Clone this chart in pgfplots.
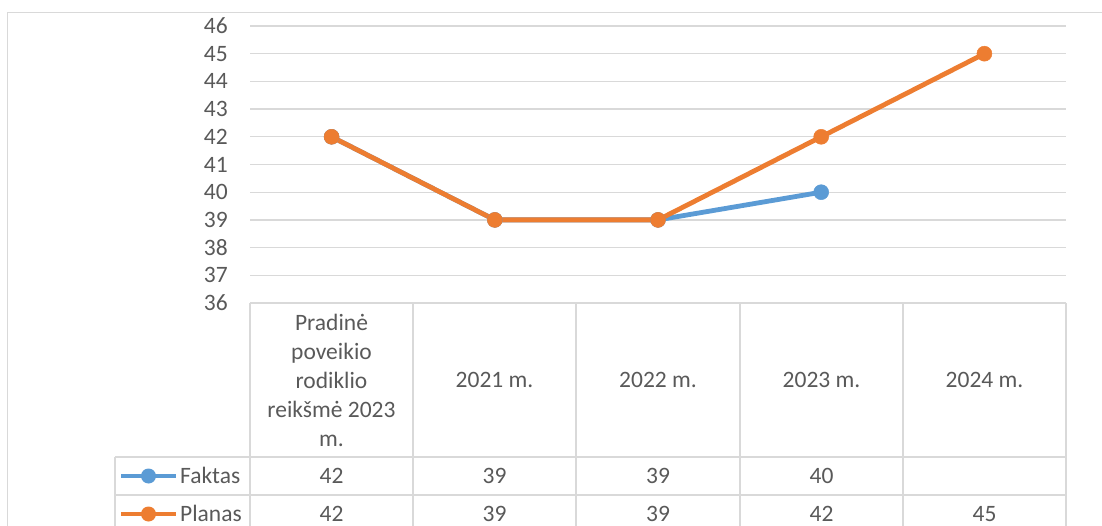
\documentclass[border=0pt]{standalone}
\usepackage{fontspec}
\setmainfont{Carlito}
\usepackage{pgfplots}
\pgfplotsset{compat=1.18}
\definecolor{gridc}{HTML}{D9D9D9}
\definecolor{txt}{HTML}{595959}
\definecolor{fakt}{HTML}{5B9BD5}
\definecolor{plan}{HTML}{ED7D31}
\begin{document}
\begin{tikzpicture}
\path[use as bounding box] (0pt,0pt) rectangle (1102pt,-526pt);
\clip (0pt,0pt) rectangle (1102pt,-526pt);
\draw[gridc, line width=1.3pt] (7.5pt,-800pt) -- (7.5pt,-12.5pt) -- (1200pt,-12.5pt);
\begin{axis}[at={(250pt,-303pt)}, anchor=south west, scale only axis,
  width=816pt, height=277pt,
  xmin=-0.5, xmax=4.5, ymin=36, ymax=46, ytick={36,...,46}, xtick=\empty,
  axis line style={draw=none}, ymajorgrids, grid style={gridc, line width=1.3pt},
  major tick length=0pt,
  yticklabel style={font=\fontsize{23.5}{29}\selectfont, text=txt, inner sep=0pt, xshift=-22pt},
  /pgf/number format/assume math mode=true, clip=false]
\addplot[fakt, line width=4.8pt, mark=*, mark size=7.5pt, mark options={fill=fakt, draw=fakt, line width=0.5pt}] coordinates {(0,42)(1,39)(2,39)(3,40)};
\addplot[plan, line width=4.8pt, mark=*, mark size=7.5pt, mark options={fill=plan, draw=plan, line width=0.5pt}] coordinates {(0,42)(1,39)(2,39)(3,42)(4,45)};
\end{axis}
\begin{scope}[gridc, line width=1.3pt]
\foreach \x in {250,413,576,740,903,1066} \draw (\x pt,-303pt) -- (\x pt,-540pt);
\draw (115pt,-457pt) -- (115pt,-540pt);
\draw (250pt,-303pt) -- (1066pt,-303pt);
\draw (115pt,-457pt) -- (1066pt,-457pt);
\draw (115pt,-495pt) -- (1066pt,-495pt);
\end{scope}
\begin{scope}[every node/.style={font=\fontsize{23.5}{29}\selectfont, text=txt, inner sep=0pt}]
\node[align=center, anchor=center] at (331.5pt,-380pt) {Pradinė\\poveikio\\rodiklio\\reikšmė 2023\\m.};
\node[anchor=base] at (494.5pt,-387pt) {2021 m.};
\node[anchor=base] at (658pt,-387pt) {2022 m.};
\node[anchor=base] at (821.5pt,-387pt) {2023 m.};
\node[anchor=base] at (984.5pt,-387pt) {2024 m.};
\node[anchor=base] at (331.5pt,-483pt) {42};
\node[anchor=base] at (494.5pt,-483pt) {39};
\node[anchor=base] at (658pt,-483pt) {39};
\node[anchor=base] at (821.5pt,-483pt) {40};
\node[anchor=base] at (331.5pt,-521pt) {42};
\node[anchor=base] at (494.5pt,-521pt) {39};
\node[anchor=base] at (658pt,-521pt) {39};
\node[anchor=base] at (821.5pt,-521pt) {42};
\node[anchor=base] at (984.5pt,-521pt) {45};
\node[anchor=base west] at (180pt,-483pt) {Faktas};
\node[anchor=base west] at (180pt,-521pt) {Planas};
\end{scope}
\draw[fakt, line width=4.8pt] (121pt,-476pt) -- (176pt,-476pt);
\fill[fakt] (148.5pt,-476pt) circle (7.5pt);
\draw[plan, line width=4.8pt] (121pt,-514pt) -- (176pt,-514pt);
\fill[plan] (148.5pt,-514pt) circle (7.5pt);
\end{tikzpicture}
\end{document}
